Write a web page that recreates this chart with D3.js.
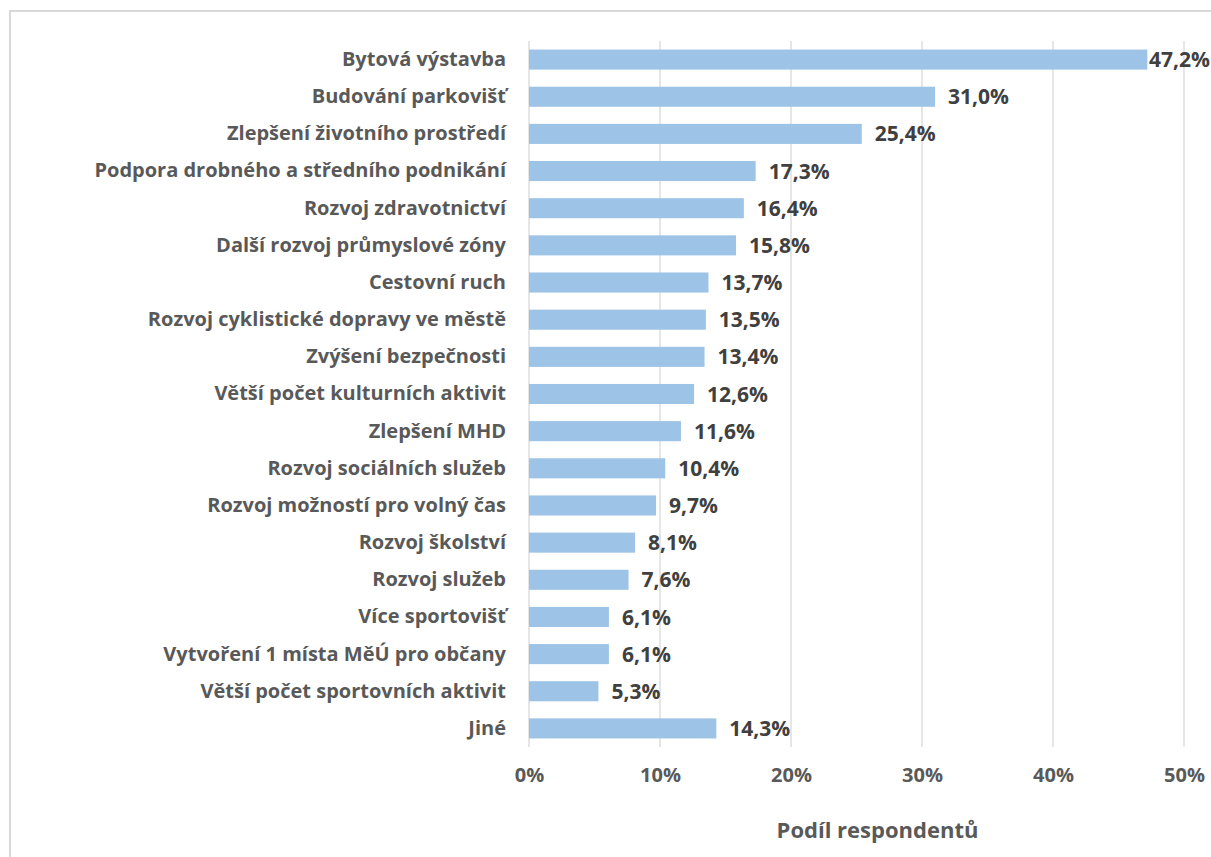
<!DOCTYPE html>
<html>
<head>
<meta charset="utf-8">
<script src="https://cdn.jsdelivr.net/npm/d3@7"></script>
<style>
  html, body { margin: 0; padding: 0; background: #fff; }
  svg { display: block; }
  text { font-family: "Open Sans", "Noto Sans", sans-serif; font-weight: 700; }
</style>
</head>
<body>
<svg id="chart" width="1211" height="857"></svg>
<script>
const categories = [
  "Bytová výstavba",
  "Budování parkovišť",
  "Zlepšení životního prostředí",
  "Podpora drobného a středního podnikání",
  "Rozvoj zdravotnictví",
  "Další rozvoj průmyslové zóny",
  "Cestovní ruch",
  "Rozvoj cyklistické dopravy ve městě",
  "Zvýšení bezpečnosti",
  "Větší počet kulturních aktivit",
  "Zlepšení MHD",
  "Rozvoj sociálních služeb",
  "Rozvoj možností pro volný čas",
  "Rozvoj školství",
  "Rozvoj služeb",
  "Více sportovišť",
  "Vytvoření 1 místa MěÚ pro občany",
  "Větší počet sportovních aktivit",
  "Jiné"
];
const shares = [47.2, 31.0, 25.4, 17.3, 16.4, 15.8, 13.7, 13.5, 13.4, 12.6, 11.6, 10.4, 9.7, 8.1, 7.6, 6.1, 6.1, 5.3, 14.3];
const xTicks = [0, 10, 20, 30, 40, 50];
const axisTitle = "Podíl respondentů";

const svg = d3.select("#chart");
const W = 1211, H = 857;

// chart frame
svg.append("rect")
  .attr("x", 10).attr("y", 11)
  .attr("width", W + 10).attr("height", H + 10)
  .attr("fill", "#fff")
  .attr("stroke", "#d9d9d9").attr("stroke-width", 2);

const plot = { left: 529, right: 1184, top: 41, bottom: 747 };

const x = d3.scaleLinear().domain([0, 50]).range([plot.left, plot.right]);
const y = d3.scaleBand().domain(categories).range([plot.top, plot.bottom]).paddingInner(0.46).paddingOuter(0.23);

const fmt = v => v.toFixed(1).replace(".", ",") + "%";

// vertical gridlines
svg.append("g").selectAll("line")
  .data(xTicks)
  .join("line")
  .attr("x1", d => x(d)).attr("x2", d => x(d))
  .attr("y1", plot.top).attr("y2", plot.bottom)
  .attr("stroke", "#d9d9d9").attr("stroke-width", 1.3);

// bars
svg.append("g").selectAll("rect")
  .data(categories)
  .join("rect")
  .attr("x", x(0))
  .attr("y", d => y(d))
  .attr("width", (d, i) => x(shares[i]) - x(0))
  .attr("height", y.bandwidth())
  .attr("fill", "#9dc3e6");

// value labels, pulled back so the longest one stays inside the frame
svg.append("g").selectAll("text")
  .data(categories)
  .join("text")
  .attr("y", d => y(d) + y.bandwidth() / 2)
  .attr("dy", "0.36em")
  .attr("fill", "#404040")
  .attr("font-size", 21)
  .text((d, i) => fmt(shares[i]))
  .attr("x", function (d, i) {
    const w = this.getComputedTextLength();
    return Math.min(x(shares[i]) + 13, W - w - 1);
  });

// category axis
const yAxis = d3.axisLeft(y).tickSize(0).tickPadding(23);
const gy = svg.append("g").attr("transform", `translate(${plot.left},0)`).call(yAxis);
gy.select(".domain").remove();
gy.selectAll("text")
  .attr("font-size", 20)
  .attr("fill", "#595959")
  .style("font-family", "\"Open Sans\", sans-serif")
  .style("font-weight", 700);

// value axis
const xAxis = d3.axisBottom(x).tickValues(xTicks).tickSize(0).tickPadding(21).tickFormat(d => d + "%");
const gx = svg.append("g").attr("transform", `translate(0,${plot.bottom})`).call(xAxis);
gx.select(".domain").remove();
gx.selectAll("text")
  .attr("font-size", 20)
  .attr("fill", "#595959")
  .style("font-family", "\"Open Sans\", sans-serif")
  .style("font-weight", 700);

// axis title
svg.append("text")
  .attr("x", 877.5)
  .attr("y", 838)
  .attr("text-anchor", "middle")
  .attr("fill", "#595959")
  .attr("font-size", 22)
  .text(axisTitle);
</script>
</body>
</html>
